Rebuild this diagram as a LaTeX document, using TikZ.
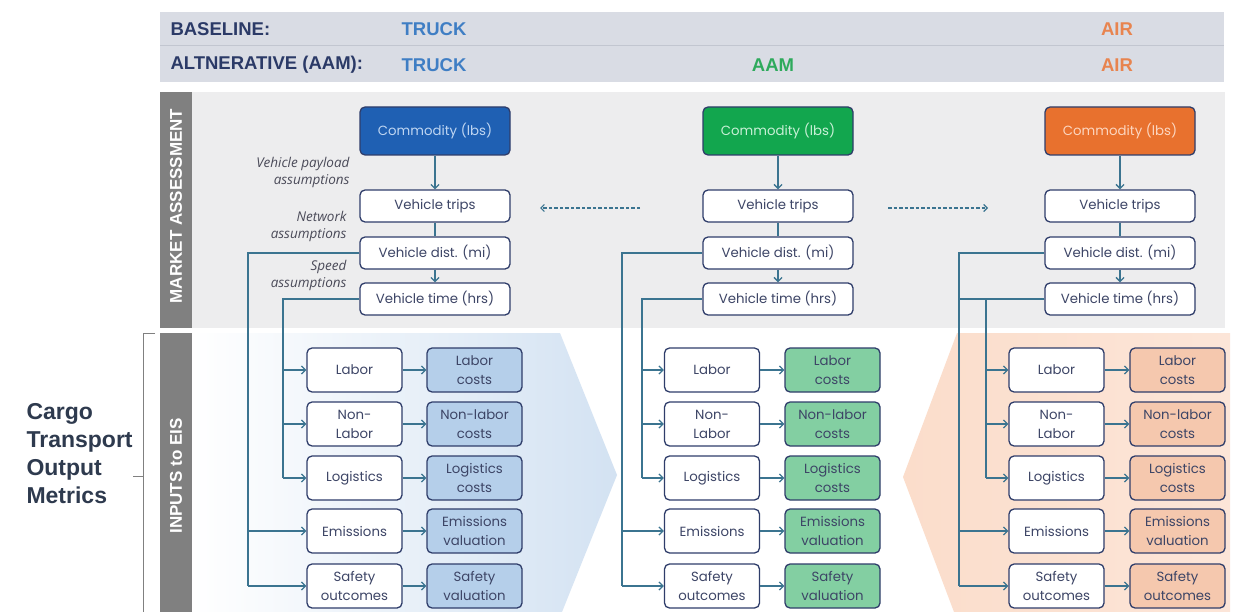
\documentclass[tikz,border=0pt]{standalone}
\usepackage{fontspec}
\setmainfont{Liberation Sans}
\newfontfamily\boxfont{Poppins}
\newfontfamily\itfont{Open Sans}
\usetikzlibrary{arrows.meta}
\definecolor{hdrbg}{HTML}{D9DCE4}
\definecolor{hdrline}{HTML}{C2C6D0}
\definecolor{navy}{HTML}{2B3A67}
\definecolor{truckblue}{HTML}{3F7EC4}
\definecolor{aamgreen}{HTML}{2EAA5C}
\definecolor{airorange}{HTML}{E8844F}
\definecolor{panelgray}{HTML}{EDEDEE}
\definecolor{bargray}{HTML}{808080}
\definecolor{conn}{HTML}{3B7490}
\definecolor{bordr}{HTML}{2F3D6A}
\definecolor{btext}{HTML}{3D4566}
\definecolor{cblue}{HTML}{1F60B3}
\definecolor{cgreen}{HTML}{12A64E}
\definecolor{corange}{HTML}{E8712E}
\definecolor{tblue}{HTML}{BFD6F2}
\definecolor{tgreen}{HTML}{C8F0D6}
\definecolor{torange}{HTML}{FCD6C0}
\definecolor{oblue}{HTML}{B5CFEA}
\definecolor{ogreen}{HTML}{83CFA2}
\definecolor{oorange}{HTML}{F5C8AE}
\definecolor{chevblue}{HTML}{D3E2F2}
\definecolor{chevorange}{HTML}{FBDDCB}
\definecolor{titlec}{HTML}{2E3A4E}
\definecolor{itc}{HTML}{4A4A58}
\tikzset{
  basebox/.style={draw=bordr, line width=1.3pt, rounded corners=5pt, align=center,
    inner sep=1pt, text=btext, font=\boxfont\fontsize{13.3}{19}\selectfont},
  cbox/.style={basebox, minimum width=150pt, minimum height=48pt},
  vbox/.style={basebox, fill=white, minimum width=150pt, minimum height=32pt},
  ibox/.style={basebox, fill=white, minimum width=95pt, minimum height=44pt},
  obox/.style={basebox, minimum width=95pt, minimum height=44pt},
  ln/.style={draw=conn, line width=1.3pt},
  arr/.style={ln, -{Straight Barb[length=4pt,width=8pt,line width=1.3pt]}},
  darr/.style={draw=conn, line width=1.2pt, dash pattern=on 3.5pt off 2pt,
    -{Straight Barb[length=3.5pt,width=7pt,line width=1.2pt]}},
  hdr/.style={font=\bfseries\fontsize{18.5}{20}\selectfont},
  itl/.style={anchor=east, text=itc, align=right,
    font=\itfont\itshape\fontsize{13.5}{17}\selectfont},
  bartext/.style={rotate=90, text=white, font=\bfseries\fontsize{17}{18}\selectfont}
}
\newcommand{\cargocol}[9]{%
  \node[cbox, fill=#7, text=#8] (c#1) at (#2,131) {Commodity (lbs)};
  \node[vbox] (t#1) at (#2,206) {Vehicle trips};
  \node[vbox] (d#1) at (#2,253) {Vehicle dist. (mi)};
  \node[vbox] (h#1) at (#2,299) {Vehicle time (hrs)};
  \draw[arr] (c#1) -- (t#1);
  \draw[ln] (t#1) -- (d#1);
  \draw[arr] (d#1) -- (h#1);
  \node[ibox] (ia#1) at (#3,370) {Labor};
  \node[ibox] (ib#1) at (#3,424) {Non-\\Labor};
  \node[ibox] (ic#1) at (#3,478) {Logistics};
  \node[ibox] (id#1) at (#3,531) {Emissions};
  \node[ibox] (ie#1) at (#3,586) {Safety\\outcomes};
  \node[obox, fill=#9] (oa#1) at (#4,370) {Labor\\costs};
  \node[obox, fill=#9] (ob#1) at (#4,424) {Non-labor\\costs};
  \node[obox, fill=#9] (oc#1) at (#4,478) {Logistics\\costs};
  \node[obox, fill=#9] (od#1) at (#4,531) {Emissions\\valuation};
  \node[obox, fill=#9] (oe#1) at (#4,586) {\lastout};
  \coordinate (va#1) at (#5,586);
  \coordinate (vb#1) at (#6,478);
  \draw[ln] (d#1.west) -| (va#1);
  \draw[ln] (h#1.west) -| (vb#1);
  \draw[arr] (vb#1 |- ia#1.west) -- (ia#1.west);
  \draw[arr] (vb#1 |- ib#1.west) -- (ib#1.west);
  \draw[arr] (vb#1) -- (ic#1.west);
  \draw[arr] (va#1 |- id#1.west) -- (id#1.west);
  \draw[arr] (va#1) -- (ie#1.west);
  \draw[arr] (ia#1) -- (oa#1);
  \draw[arr] (ib#1) -- (ob#1);
  \draw[arr] (ic#1) -- (oc#1);
  \draw[arr] (id#1) -- (od#1);
  \draw[arr] (ie#1) -- (oe#1);
}
\begin{document}
\begin{tikzpicture}[x=1pt,y=-1pt]
\useasboundingbox (0,0) rectangle (1238,612);
\fill[white] (0,0) rectangle (1238,612);
% header
\fill[hdrbg] (160,12) rectangle (1224,82);
\draw[hdrline, line width=1pt] (160,46) -- (1224,46);
\node[hdr, anchor=west, text=navy] (bl) at (167,29) {BASELINE:};
\node[hdr, anchor=west, text=navy] (al) at (167,65) {ALTNERATIVE (AAM):};
\node[hdr, text=truckblue] (tr1) at (434,29) {TRUCK};
\node[hdr, text=truckblue] (tr2) at (434,65) {TRUCK};
\node[hdr, text=aamgreen] (aam) at (773,65) {AAM};
\node[hdr, text=airorange] (air1) at (1117,29) {AIR};
\node[hdr, text=airorange] (air2) at (1117,65) {AIR};
% market assessment panel
\fill[panelgray] (160,92) rectangle (1225,328);
% chevrons
\shade[left color=white, right color=chevblue] (192,333) -- (560,333) -- (617,475) -- (562,612) -- (192,612) -- cycle;
\shade[left color=chevorange, right color=chevorange!75!white] (957,333) -- (1230,333) -- (1230,612) -- (954,612) -- (903,477) -- cycle;
% side bars
\fill[bargray] (160,92) rectangle (192,328);
\node[bartext] (ma) at (176,206) {MARKET ASSESSMENT};
\fill[bargray] (160,333) rectangle (192,612);
\node[bartext] (ie) at (176,476) {INPUTS to EIS};
% brace
\draw[gray, line width=1pt] (155,333) -- (143,333) -- (143,612);
\draw[gray, line width=1pt] (143,476) -- (133,476);
\node[anchor=west, align=left, text=titlec, font=\bfseries\fontsize{23}{28}\selectfont] (cargo) at (23,454) {Cargo\\Transport\\Output\\Metrics};
% columns
\def\lastout{Safety\\valuation}
\cargocol{1}{435}{354.5}{474.5}{248}{283}{cblue}{tblue}{oblue}
\cargocol{2}{778}{712}{832.5}{622}{642}{cgreen}{tgreen}{ogreen}
\def\lastout{Safety\\outcomes}
\cargocol{3}{1120}{1056.5}{1177.5}{959}{986}{corange}{torange}{oorange}
\draw[ln] (h3.west) -- (va3 |- h3.west);
% italic assumption labels
\node[itl] (l1) at (353,172) {Vehicle payload\\assumptions};
\node[itl] (l2) at (350,226) {Network\\assumptions};
\node[itl] (l3) at (350,275) {Speed\\assumptions};
% dashed arrows
\coordinate (dls) at (640,208);
\coordinate (dle) at (540,208);
\coordinate (drs) at (888,208);
\coordinate (dre) at (988,208);
\draw[darr] (dls) -- (dle);
\draw[darr] (drs) -- (dre);
\end{tikzpicture}
\end{document}
